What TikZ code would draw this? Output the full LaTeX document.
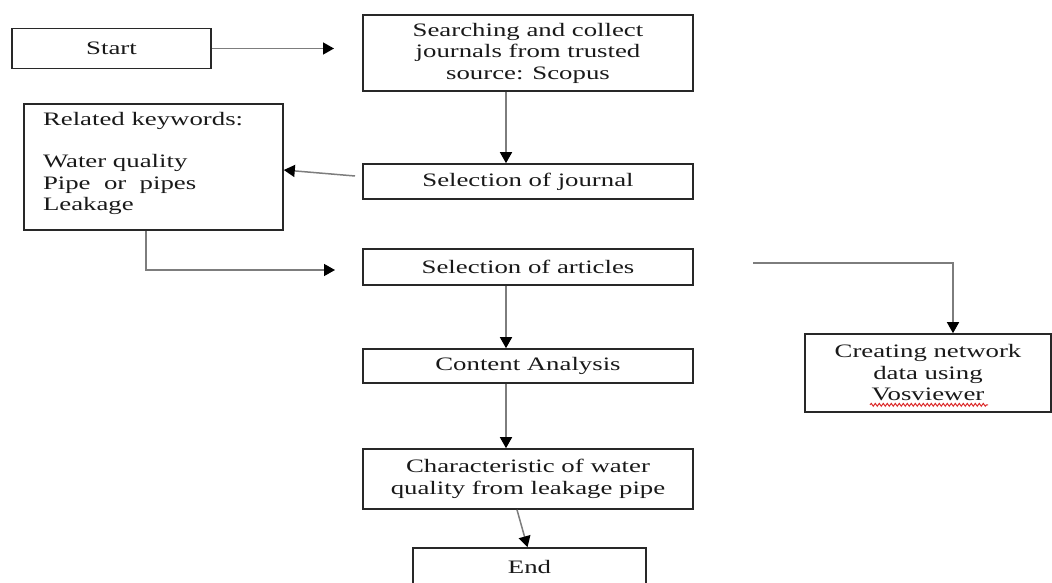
\documentclass[tikz,border=0pt]{standalone}
\definecolor{boxline}{RGB}{40,40,40}
\definecolor{linegray}{RGB}{125,125,125}
\definecolor{inkblack}{RGB}{25,25,25}
\definecolor{spellred}{RGB}{220,40,40}
\usepackage{fontspec}
\setmainfont[FakeStretch=1.41]{Liberation Serif}
\usepackage{tikz}
\usetikzlibrary{arrows.meta,positioning,calc,decorations.pathmorphing}
\newcommand{\boxfont}{\fontsize{19}{21.5}\selectfont}
\tikzset{
  stepbox/.style={rectangle,draw=boxline,line width=1.6pt,
              minimum width=330pt,minimum height=#1,inner sep=0pt,
              align=center,font=\boxfont,text=inkblack},
  stepbox/.default=36pt,
  keybox/.style={rectangle,draw=boxline,line width=1.6pt,
              minimum width=259pt,minimum height=126pt,inner sep=0pt,
              font=\boxfont,text=inkblack},
  arrow/.style={-{Triangle[length=11pt,width=12pt,color=black]},
              draw=linegray,line width=1.5pt},
  spell/.style={draw=spellred,line width=1pt,
              decorate,decoration={snake,amplitude=1.4pt,segment length=4pt}},
}
\begin{document}
\begin{tikzpicture}[x=1pt,y=-1pt]
  \useasboundingbox (0,0) rectangle (1052,583);
  \node[stepbox=40pt,minimum width=199pt] (start) at (111.5,48.5) {Start};
  \node[stepbox=76pt] (search) at (528,53)
    {Searching and collect\\journals from trusted\\source: Scopus};
  \node[keybox] (keys) at (153.5,167)
    {\parbox[c][110pt][t]{221pt}{Related keywords:\\[21pt]
     Water quality\\Pipe\ \ or\ \ pipes\\Leakage}};
  \node[stepbox=35pt] (journal) at (528,181.5) {Selection of journal};
  \node[stepbox=36pt] (articles) at (528,267) {Selection of articles};
  \node[stepbox=34pt] (content) at (528,366) {Content Analysis};
  \node[stepbox=60pt] (charac) at (528,479)
    {Characteristic of water\\quality from leakage pipe};
  \node[stepbox=38pt,minimum width=233pt] (end) at (529.5,567) {End};
  \node[stepbox=78pt,minimum width=246pt] (creating) at (928,373)
    {Creating network\\data using\\Vosviewer};
  \draw[spell] ($(creating.south)+(-58,-8)$) -- ++(118,0);

  \coordinate (a1) at (334,48.5);
  \coordinate (j1) at (355,176);
  \coordinate (a2) at (335,270);
  \coordinate (c1) at (753,263);

  \draw[arrow] (start.east) -- (a1);
  \draw[arrow] ([xshift=-22pt]search.south) -- ([xshift=-22pt]journal.north);
  \draw[arrow] (j1) -- ([yshift=-3pt]keys.east);
  \draw[arrow] ([xshift=-7.5pt]keys.south) |- (a2);
  \draw[arrow] (c1) -| ([xshift=25pt]creating.north);
  \draw[arrow] ([xshift=-22pt]articles.south) -- ([xshift=-22pt]content.north);
  \draw[arrow] ([xshift=-22pt]content.south) -- ([xshift=-22pt]charac.north);
  \draw[arrow] ([xshift=-11pt]charac.south) -- ([xshift=-2pt]end.north);
\end{tikzpicture}
\end{document}
